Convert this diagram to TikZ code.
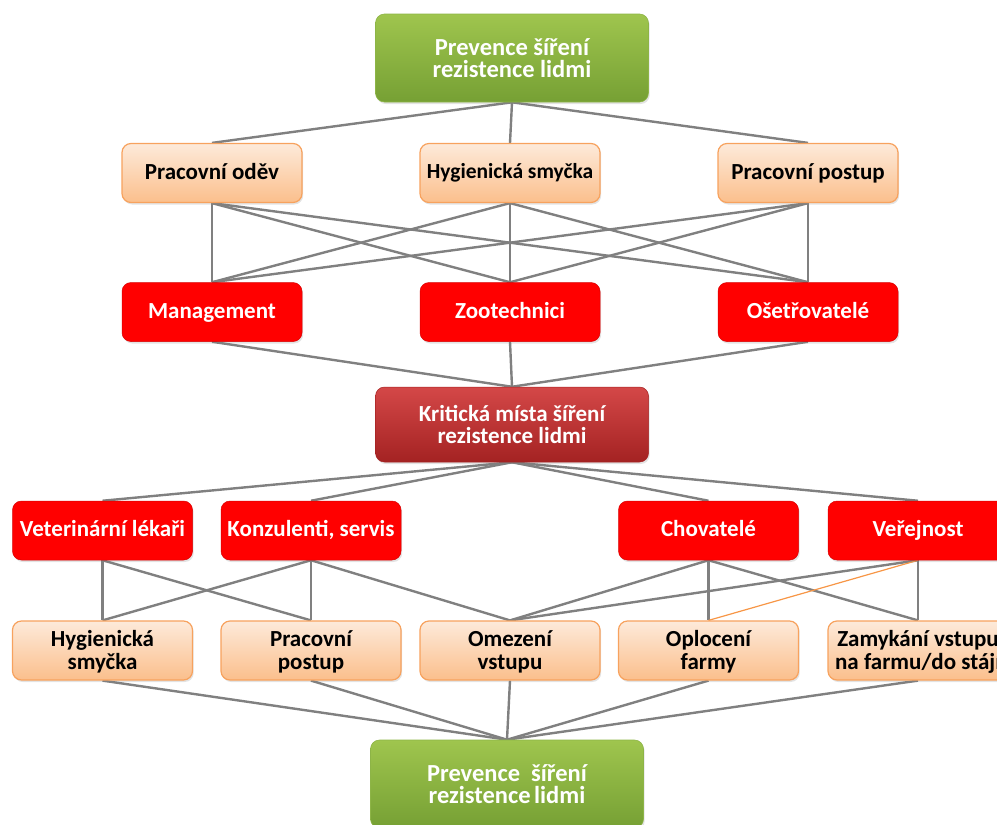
\documentclass[tikz,border=0pt]{standalone}
\usepackage{fontspec}
\setmainfont{Carlito}
\usetikzlibrary{shadows,backgrounds}

\definecolor{greentop}{HTML}{9FC54E}
\definecolor{greenbot}{HTML}{76A034}
\definecolor{greenline}{HTML}{8DB447}
\definecolor{peachtop}{HTML}{FDEADA}
\definecolor{peachbot}{HTML}{FBBF8C}
\definecolor{peachline}{HTML}{F7A25E}
\definecolor{boxred}{HTML}{FF0000}
\definecolor{krittop}{HTML}{D44848}
\definecolor{kritbot}{HTML}{A42222}
\definecolor{linkgray}{HTML}{808080}
\definecolor{linkorange}{HTML}{F79646}

% strut whose height minus depth equals the cap height, so capitals sit centred
\newcommand\capstrut{\rule[-0.03em]{0pt}{0.614em}}
% last line of a label: its descenders must not move the label up
\newcommand\lastln[1]{\smash{#1}}

\tikzset{
  basebox/.style={rounded corners=9pt, inner sep=0pt, align=center,
    font=\fontsize{23}{23}\selectfont\bfseries,
    execute at begin node=\capstrut, execute at end node=\capstrut,
    drop shadow={shadow xshift=1.2pt, shadow yshift=-2pt, opacity=0.22}},
  greenbox/.style={basebox, minimum width=273pt, minimum height=88pt,
    font=\fontsize{24.5}{22}\selectfont\bfseries,
    top color=greentop, bottom color=greenbot, draw=greenline, line width=0.6pt, text=white},
  peachbox/.style={basebox, minimum width=180pt, minimum height=59pt,
    top color=peachtop, bottom color=peachbot, draw=peachline, line width=1.2pt, text=black},
  redbox/.style={basebox, minimum width=180pt, minimum height=59pt,
    fill=boxred, draw=boxred!85!black, line width=0.5pt, text=white},
  kritbox/.style={basebox, minimum width=273pt, minimum height=75pt,
    font=\fontsize{23}{22}\selectfont\bfseries,
    top color=krittop, bottom color=kritbot, draw=kritbot, line width=0.5pt, text=white},
  link/.style={draw=linkgray, line width=2.4pt},
  thinlink/.style={draw=linkorange, line width=1.2pt}
}

\begin{document}
\begin{tikzpicture}[x=1pt,y=-1pt]
\clip (0,0) rectangle (997,825);
\useasboundingbox (0,0) rectangle (997,825);

% top goal
\node[greenbox] (top) at (512,58) {Prevence šíření\\\lastln{rezistence lidmi}};

% measures
\node[peachbox] (p1) at (212,173) {\lastln{Pracovní oděv}};
\node[peachbox, font=\fontsize{21.5}{23}\selectfont\bfseries] (p2) at (510,173) {\lastln{Hygienická smyčka}};
\node[peachbox] (p3) at (808,173) {\lastln{Pracovní postup}};

% staff groups
\node[redbox] (r1) at (212,312) {\lastln{Management}};
\node[redbox] (r2) at (510,312) {\lastln{Zootechnici}};
\node[redbox] (r3) at (808,312) {\lastln{Ošetřovatelé}};

% critical points
\node[kritbox] (krit) at (512,424.5) {Kritická místa šíření\\\lastln{rezistence lidmi}};

% outside groups
\node[redbox] (v1) at (102.5,530.5) {\lastln{Veterinární lékaři}};
\node[redbox] (v2) at (311,530.5) {\lastln{Konzulenti, servis}};
\node[redbox] (v3) at (708.5,530.5) {\lastln{Chovatelé}};
\node[redbox] (v4) at (918,530.5) {\lastln{Veřejnost}};

% outside measures
\node[peachbox] (b1) at (102.5,650.5) {Hygienická\\\lastln{smyčka}};
\node[peachbox] (b2) at (311,650.5) {Pracovní\\\lastln{postup}};
\node[peachbox] (b3) at (510,650.5) {Omezení\\\lastln{vstupu}};
\node[peachbox] (b4) at (708.5,650.5) {Oplocení\\\lastln{farmy}};
\node[peachbox] (b5) at (918,650.5) {Zamykání vstupu\\\lastln{na farmu/do stájí}};

% bottom goal
\node[greenbox] (bot) at (507,784) {Prevence~ šíření\\\lastln{rezistence\hspace{-2pt} lidmi}};

\begin{pgfonlayer}{background}
  % top goal to measures
  \foreach \m in {p1,p2,p3} \draw[link] (top.south) -- (\m.north);
  % every measure to every staff group
  \foreach \m in {p1,p2,p3}
    \foreach \s in {r1,r2,r3}
      \draw[link] (\m.south) -- (\s.north);
  % staff groups to critical points
  \foreach \s in {r1,r2,r3} \draw[link] (\s.south) -- (krit.north);
  % critical points to outside groups
  \foreach \g in {v1,v2,v3,v4} \draw[link] (krit.south) -- (\g.north);
  % outside groups to their measures
  \draw[link] (v1.south) -- (b1.north);
  \draw[link] (v1.south) -- (b2.north);
  \draw[link] (v2.south) -- (b1.north);
  \draw[link] (v2.south) -- (b2.north);
  \draw[link] (v2.south) -- (b3.north);
  \draw[link] (v3.south) -- (b3.north);
  \draw[link] (v3.south) -- (b4.north);
  \draw[link] (v3.south) -- (b5.north);
  \draw[link] (v4.south) -- (b3.north);
  \draw[link] (v4.south) -- (b5.north);
  \draw[thinlink] (v4.south) -- (b4.north);
  % outside measures to bottom goal
  \foreach \m in {b1,b2,b3,b4,b5} \draw[link] (\m.south) -- (bot.north);
\end{pgfonlayer}
\end{tikzpicture}
\end{document}
